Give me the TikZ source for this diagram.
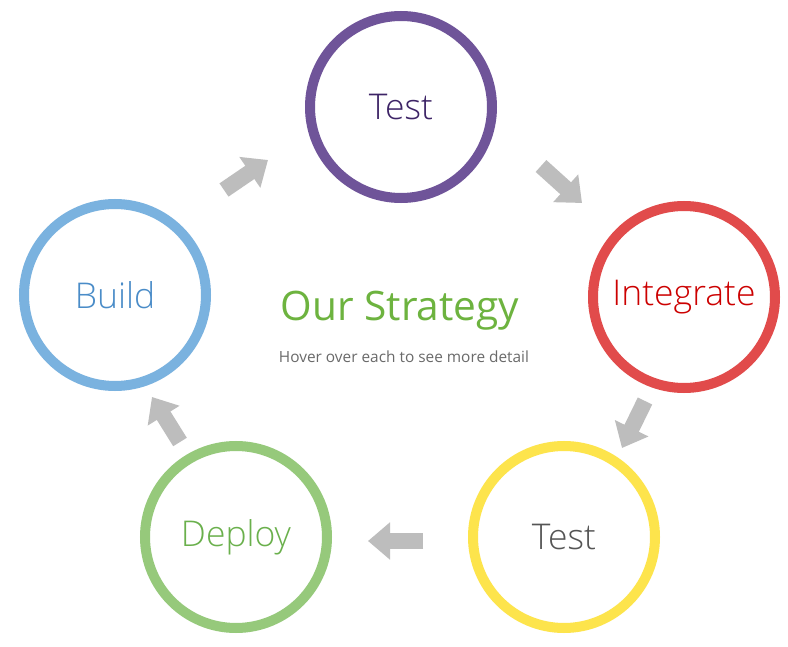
\documentclass[tikz,border=0pt]{standalone}
\usepackage{fontspec}
\setmainfont{Open Sans}[UprightFont=* Light]
\newfontfamily\regularfont{Open Sans}
\usetikzlibrary{arrows.meta}
\definecolor{ringpurple}{HTML}{6F5499}
\definecolor{txtpurple}{HTML}{3D2466}
\definecolor{ringblue}{HTML}{7AB2DF}
\definecolor{txtblue}{HTML}{4A8CC8}
\definecolor{ringred}{HTML}{E14B4B}
\definecolor{txtred}{HTML}{CC0000}
\definecolor{ringyellow}{HTML}{FDE44C}
\definecolor{txtgray}{HTML}{555555}
\definecolor{ringgreen}{HTML}{96C97B}
\definecolor{txtgreen}{HTML}{6AB04C}
\definecolor{titlegreen}{HTML}{6DB33F}
\definecolor{subgray}{HTML}{6A6A6A}
\definecolor{arrowgray}{HTML}{BDBDBD}
\tikzset{
  stage/.style={circle, draw=#1, line width=10pt, minimum size=182pt, inner sep=0pt,
    font=\fontsize{35.5}{35.5}\selectfont},
  flow/.style={draw=arrowgray, line width=16pt,
    -{Triangle[length=22pt,width=36pt]}}
}
\begin{document}
\begin{tikzpicture}[x=1pt,y=-1pt]
\useasboundingbox[fill=white] (0,0) rectangle (788,647);
\node[stage=ringpurple, text=txtpurple] (test1) at (401,107) {Test};
\node[stage=ringred, text=txtred] (integrate) at (684,297) {Integrate};
\node[stage=ringyellow, text=txtgray] (test2) at (564,537) {Test};
\node[stage=ringgreen, text=txtgreen] (deploy) at (236,537) {Deploy};
\node[stage=ringblue, text=txtblue] (build) at (115,295) {Build};

\node[text=titlegreen, font=\regularfont\fontsize{40.6}{40.6}\selectfont] (title) at (400,311) {Our Strategy};
\node[text=subgray, font=\regularfont\fontsize{15.4}{15.4}\selectfont] (subtitle) at (404,357) {Hover over each to see more detail};

% arrows between the stages
\coordinate (a1s) at (224,190); \coordinate (a1e) at (268,160);
\coordinate (a2s) at (541,166); \coordinate (a2e) at (582,203);
\coordinate (a3s) at (645,401); \coordinate (a3e) at (622,448);
\coordinate (a4s) at (423,541); \coordinate (a4e) at (368,541);
\coordinate (a5s) at (180,442); \coordinate (a5e) at (152,397);
\draw[flow] (a1s) -- (a1e);
\draw[flow] (a2s) -- (a2e);
\draw[flow] (a3s) -- (a3e);
\draw[flow] (a4s) -- (a4e);
\draw[flow] (a5s) -- (a5e);
\end{tikzpicture}
\end{document}
